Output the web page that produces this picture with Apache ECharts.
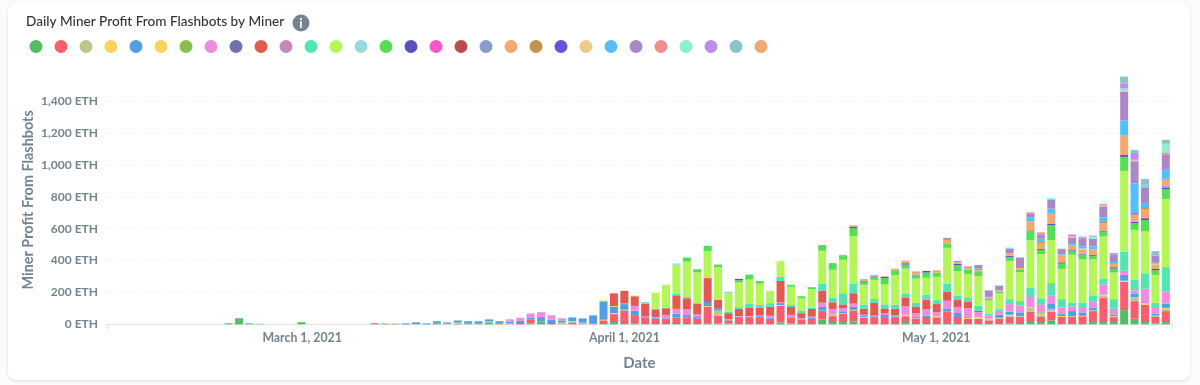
<!DOCTYPE html>
<html>
<head>
<meta charset="utf-8">
<style>
  html, body { margin: 0; padding: 0; background: #f9fbfc; }
  #card { position: absolute; left: 8px; top: 3px; width: 1182px; height: 377px; background: #fff; border-radius: 8px; box-shadow: 0 1px 3px rgba(0,0,0,0.12); }
  #chart { position: absolute; left: 0; top: 0; width: 1200px; height: 385px; }
</style>
<script src="https://cdn.jsdelivr.net/npm/echarts@6/dist/echarts.min.js"></script>
</head>
<body>
<div id="card"></div>
<div id="chart"></div>
<script>
// one row per month: Feb 22-28, March, April, May 1-23
var noFeb = [0,0,0,0,0,0,0];
var noMar = [0,0,0,0,0,0,0,0,0,0,0,0,0,0,0,0,0,0,0,0,0,0,0,0,0,0,0,0,0,0,0];
var noApr = [0,0,0,0,0,0,0,0,0,0,0,0,0,0,0,0,0,0,0,0,0,0,0,0,0,0,0,0,0,0];
var noMay = [0,0,0,0,0,0,0,0,0,0,0,0,0,0,0,0,0,0,0,0,0,0,0];

var minerGreen = [6,38,6,3,0,0,0,
  13,0,0,0,0,0,0,0,3,3,0,0,0,4,0,3,4,4,12,0,0,0,4,18,0,0,0,0,0,2,14,
  2,3,2,2,2,2,2,2,3,4,4,0,0,0,0,12,4,0,0,30,14,14,17,0,0,0,0,14,2,2,
  2,2,2,2,2,2,2,4,2,14,14,25,2,2,2,14,14,14,88,35,14,4,14];
var minerRed = [...noFeb,
  0,0,0,0,0,0,0,7,0,0,0,0,0,0,0,0,0,0,0,6,0,8,25,0,8,0,8,0,4,23,50,
  85,50,37,33,31,40,40,34,108,50,20,45,45,45,35,105,40,30,34,54,37,52,70,42,40,45,45,37,35,44,
  42,78,44,33,33,23,33,44,44,64,35,54,44,44,48,69,152,31,180,110,108,42,69];
var minerKhaki = [...noFeb,
  0,0,0,0,0,0,0,0,4,3,0,0,0,0,4,8,0,0,6,0,6,0,0,0,0,12,8,10,0,0,2,
  5,0,0,0,0,0,0,0,0,33,0,0,0,0,0,0,0,0,0,2,12,4,4,0,0,0,0,0,0,0,
  0,0,0,0,0,0,6,8,0,25,12,18,0,0,0,0,16,0,0,20,0,10,14];
var minerYellow = [...noFeb,
  0,0,0,0,0,0,0,0,0,0,0,0,0,0,0,0,0,0,0,0,0,0,0,0,0,0,3,0,0,4,4,
  0,0,0,0,0,0,0,0,4,0,0,0,0,0,0,4,0,0,0,0,4,0,0,4,0,0,3,8,2,0,
  6,0,0,6,10,10,0,4,4,4,6,0,6,4,3,4,4,6,6,4,8,0,6];
var minerBlue = [...noFeb,
  0,0,0,0,0,0,0,0,0,0,6,12,6,15,8,13,15,15,12,13,10,14,14,27,20,12,24,27,52,115,40,
  35,33,6,6,4,25,16,10,25,12,4,4,3,6,4,12,0,4,6,23,4,12,18,10,10,14,4,0,6,8,
  0,20,25,6,0,0,20,18,25,0,6,31,12,33,22,16,0,10,37,25,0,10,27];
var minerGold = [...noFeb,
  0,0,0,0,0,0,0,0,0,0,0,0,0,0,0,0,0,0,0,0,0,0,0,0,0,0,0,0,0,6,4,
  3,0,0,0,0,0,0,0,0,0,0,0,0,0,0,0,0,0,0,0,0,0,0,0,0,0,0,0,0,0,
  ...noMay];
var minerOlive = [...noFeb,
  0,0,0,0,0,0,0,0,0,0,0,0,0,0,0,0,0,0,2,0,0,0,0,0,0,0,0,0,0,0,0,
  ...noApr,
  0,0,0,0,0,0,0,3,0,0,3,0,0,0,0,0,0,0,0,0,0,0,0];
var minerPink = [...noFeb,
  0,0,0,0,0,0,0,0,0,0,0,0,0,0,0,0,0,0,0,0,15,19,25,31,29,14,0,0,0,0,0,
  0,30,4,5,22,28,35,16,0,0,4,3,4,4,15,4,15,4,8,27,25,20,21,4,4,8,4,54,25,40,
  27,48,37,54,31,20,25,46,44,66,46,54,42,29,33,42,64,37,25,20,94,42,77];
var minerSlate = [...noFeb, ...noMar,
  0,0,0,0,0,2,0,0,0,0,0,0,0,0,0,0,0,0,0,0,0,0,0,0,0,0,0,0,0,0,
  0,0,0,0,0,0,0,0,0,3,0,0,0,0,0,0,0,0,0,0,0,0,0];
var minerBrick = [...noFeb,
  0,0,0,0,0,0,0,0,0,0,0,0,0,0,0,0,0,0,0,0,0,0,0,0,0,0,0,0,0,0,80,
  80,60,80,48,42,85,70,68,150,54,38,46,54,50,56,135,50,32,48,75,42,23,65,38,80,33,42,52,42,60,
  50,58,44,40,10,0,0,0,0,0,0,0,0,0,0,0,0,0,0,0,0,0,0];
var minerMauve = [...noFeb, ...noMar, ...noApr,
  0,0,0,0,0,0,0,0,0,0,4,0,0,0,0,0,0,0,0,0,0,0,0];
var minerTeal = [...noFeb, ...noMar,
  0,0,10,4,4,12,10,4,0,0,10,10,25,16,23,27,12,14,8,42,29,70,58,25,25,25,25,29,23,33,
  25,48,27,29,31,10,12,31,27,54,37,77,52,25,29,37,35,60,121,67,96,27,152];
var minerLime = [...noFeb, ...noMar,
  0,4,0,100,143,180,220,192,170,205,115,155,150,134,73,92,115,80,117,208,175,210,300,125,120,125,185,156,152,105,
  146,226,155,146,186,84,96,240,182,297,278,269,190,300,270,226,266,167,506,312,263,175,428];
var minerAqua = [...noFeb, ...noMar,
  0,0,0,0,0,8,0,0,0,0,10,0,0,0,4,4,0,0,0,0,0,0,0,0,0,0,0,0,0,0,
  ...noMay];
var minerLeaf = [...noFeb, ...noMar,
  0,0,0,0,0,0,26,20,33,17,0,14,31,17,0,0,12,12,12,37,42,27,50,20,20,40,31,25,25,33,
  27,25,37,27,25,12,12,25,14,58,25,94,33,25,31,20,31,25,88,42,71,29,62];
var minerIndigo = [...noFeb, ...noMar,
  0,0,0,0,0,0,0,0,0,0,0,8,0,0,0,0,0,0,0,0,0,0,8,6,3,8,0,8,0,10,
  0,0,10,0,0,0,0,8,0,4,6,8,8,4,4,6,6,8,12,8,12,8,10];
var minerMagenta = [...noFeb, ...noMar, ...noApr, ...noMay];
var minerWine = [...noFeb, ...noMar, ...noApr, ...noMay];
var minerSteel = [...noFeb, ...noMar, ...noApr,
  0,0,0,0,0,0,0,0,0,0,0,0,0,0,0,0,0,0,0,0,0,0,8];
var minerPeach = [...noFeb, ...noMar,
  0,0,0,0,0,0,0,0,0,0,0,0,0,0,0,0,0,0,0,0,0,0,10,10,8,4,10,16,20,0,
  14,25,8,12,12,12,8,14,12,56,38,69,42,29,25,35,46,21,125,46,58,25,46];
var minerBronze = [...noFeb, ...noMar, ...noApr,
  0,0,0,0,0,0,0,0,0,0,8,0,0,0,0,0,8,0,0,0,12,0,0];
var minerViolet = [...noFeb, ...noMar, ...noApr,
  0,0,0,0,0,0,0,0,0,0,0,0,0,0,0,0,0,0,0,8,0,0,0];
var minerSand = [...noFeb, ...noMar, ...noApr,
  0,0,0,0,0,0,0,0,0,0,0,0,0,0,8,0,0,0,0,0,0,8,0];
var minerSky = [...noFeb, ...noMar, ...noApr,
  0,0,0,0,12,0,0,0,0,27,20,27,8,10,14,20,29,12,92,188,25,6,62];
var minerPurple = [...noFeb, ...noMar,
  0,0,0,0,0,0,0,0,0,0,0,0,0,0,0,0,0,0,0,0,0,4,0,0,0,0,0,0,0,0,
  0,12,8,8,20,37,27,31,62,25,25,58,33,37,46,48,67,46,180,138,100,46,92];
var minerSalmon = [...noFeb, ...noMar, ...noApr,
  0,0,0,0,0,0,0,0,4,6,14,0,0,0,0,0,4,0,0,6,0,0,12];
var minerMint = [...noFeb, ...noMar, ...noApr,
  0,0,0,0,0,0,4,6,0,0,0,8,4,8,0,14,4,0,20,4,8,0,54];
var minerLilac = [...noFeb, ...noMar, ...noApr,
  0,0,0,0,0,4,0,0,0,0,0,0,0,14,10,6,8,10,33,42,8,0,0];
var minerGrey = [...noFeb, ...noMar, ...noApr,
  0,0,0,0,0,0,0,0,0,0,0,0,0,0,6,0,0,0,42,20,35,27,25];
var minerApricot = [...noFeb, ...noMar, ...noApr,
  0,0,0,0,0,0,0,0,0,0,0,0,0,0,0,0,3,0,0,0,0,0,0];

var minerValues = [minerGreen, minerRed, minerKhaki, minerYellow, minerBlue, minerGold, minerOlive, minerPink,
  minerSlate, minerBrick, minerMauve, minerTeal, minerLime, minerAqua, minerLeaf, minerIndigo, minerMagenta,
  minerWine, minerSteel, minerPeach, minerBronze, minerViolet, minerSand, minerSky, minerPurple, minerSalmon,
  minerMint, minerLilac, minerGrey, minerApricot];
var minerColors = ['#52BE63','#FF5C6E','#BDC48C','#F9D45C','#509EE3','#F9D45C','#88BF4D','#EF8CDD','#7172AD','#E35850',
  '#C589B9','#51E5B0','#B4F55A','#98D9D9','#53DE53','#5A4FBF','#FF55C9','#BC4A50','#8A9CC8','#F4A871',
  '#BE9450','#6A50E0','#EDCB8A','#56BEFF','#A989C5','#F08E8E','#8CF0C8','#BB8EEA','#8BC4C4','#F4A871'];
var monthTicks = [Date.UTC(2021,2,1), Date.UTC(2021,3,1), Date.UTC(2021,4,1)];
var monthLabels = ['March 1, 2021', 'April 1, 2021', 'May 1, 2021'];

var DAY = 86400000;
var firstDay = Date.UTC(2021,1,22);
var xMin = monthTicks[0] - 18.77 * DAY;
var xMax = monthTicks[2] + 22.68 * DAY;
// the time axis grows by about half a bar each way, take that back
var barPad = 0.47 * DAY;
var textGrey = '#74838F';

var chart = echarts.init(document.getElementById('chart'), null, {renderer: 'canvas'});

var series = minerValues.map(function(vals, i) {
  return {
    name: 'Miner ' + (i + 1),
    type: 'bar',
    stack: 'profit',
    barWidth: 8,
    itemStyle: {color: minerColors[i]},
    data: vals.map(function(v, d) { return [firstDay + d * DAY, v || null]; })
  };
});

chart.setOption({
  animation: false,
  textStyle: {fontFamily: 'Lato'},
  title: {
    text: 'Daily Miner Profit From Flashbots by Miner',
    left: 21, top: 10,
    textStyle: {fontFamily: 'Lato', fontSize: 13.6, fontWeight: 500, color: '#2E353B'}
  },
  legend: {
    left: 29.5, top: 40,
    icon: 'circle',
    itemWidth: 13, itemHeight: 13, itemGap: 12,
    padding: 0,
    formatter: function() { return ''; },
    data: series.map(function(s) { return s.name; })
  },
  grid: {left: 107, right: 28, top: 69.4, height: 254.9},
  xAxis: [
    // the bars sit on this one, the visible axis is the next one
    {type: 'time', min: xMin + barPad, max: xMax - barPad, show: false},
    {
      type: 'value',
      min: xMin, max: xMax,
      position: 'bottom',
      name: 'Date',
      nameLocation: 'middle',
      nameGap: 31,
      nameMoveOverlap: false,
      nameTextStyle: {fontFamily: 'Lato', fontSize: 15, fontWeight: 'bold', color: textGrey},
      axisLine: {lineStyle: {color: '#DCE1E4'}},
      axisTick: {show: true, customValues: [xMin, xMax], length: 6, lineStyle: {color: '#DCE1E4'}},
      splitLine: {show: false},
      axisLabel: {
        customValues: monthTicks,
        margin: 8,
        fontFamily: 'Lato', fontSize: 12.3, fontWeight: 'bold', color: textGrey,
        formatter: function(v) { return monthLabels[monthTicks.indexOf(v)]; }
      }
    }
  ],
  yAxis: {
    type: 'value',
    min: 0, max: 1600, interval: 200,
    name: 'Miner Profit From Flashbots',
    nameLocation: 'middle',
    nameGap: 72,
    nameMoveOverlap: false,
    nameTextStyle: {fontFamily: 'Lato', fontSize: 14.4, fontWeight: 'bold', color: textGrey, padding: [0, 6, 0, 0]},
    axisLine: {show: false},
    axisTick: {show: false},
    splitLine: {showMaxLine: false, lineStyle: {color: '#EDF0F2', type: [6, 6]}},
    axisLabel: {
      showMaxLabel: false,
      margin: 9,
      fontFamily: 'Lato', fontSize: 12, fontWeight: 'bold', color: textGrey,
      formatter: function(v) { return v.toLocaleString('en-US') + ' ETH'; }
    }
  },
  graphic: [
    {type: 'circle', shape: {cx: 301, cy: 23, r: 8.5}, style: {fill: '#74838F'}},
    {type: 'text', style: {x: 301, y: 23.5, text: 'i', align: 'center', verticalAlign: 'middle', fill: '#fff', font: 'bold 13px Lato'}}
  ],
  series: series
});
</script>
</body>
</html>
